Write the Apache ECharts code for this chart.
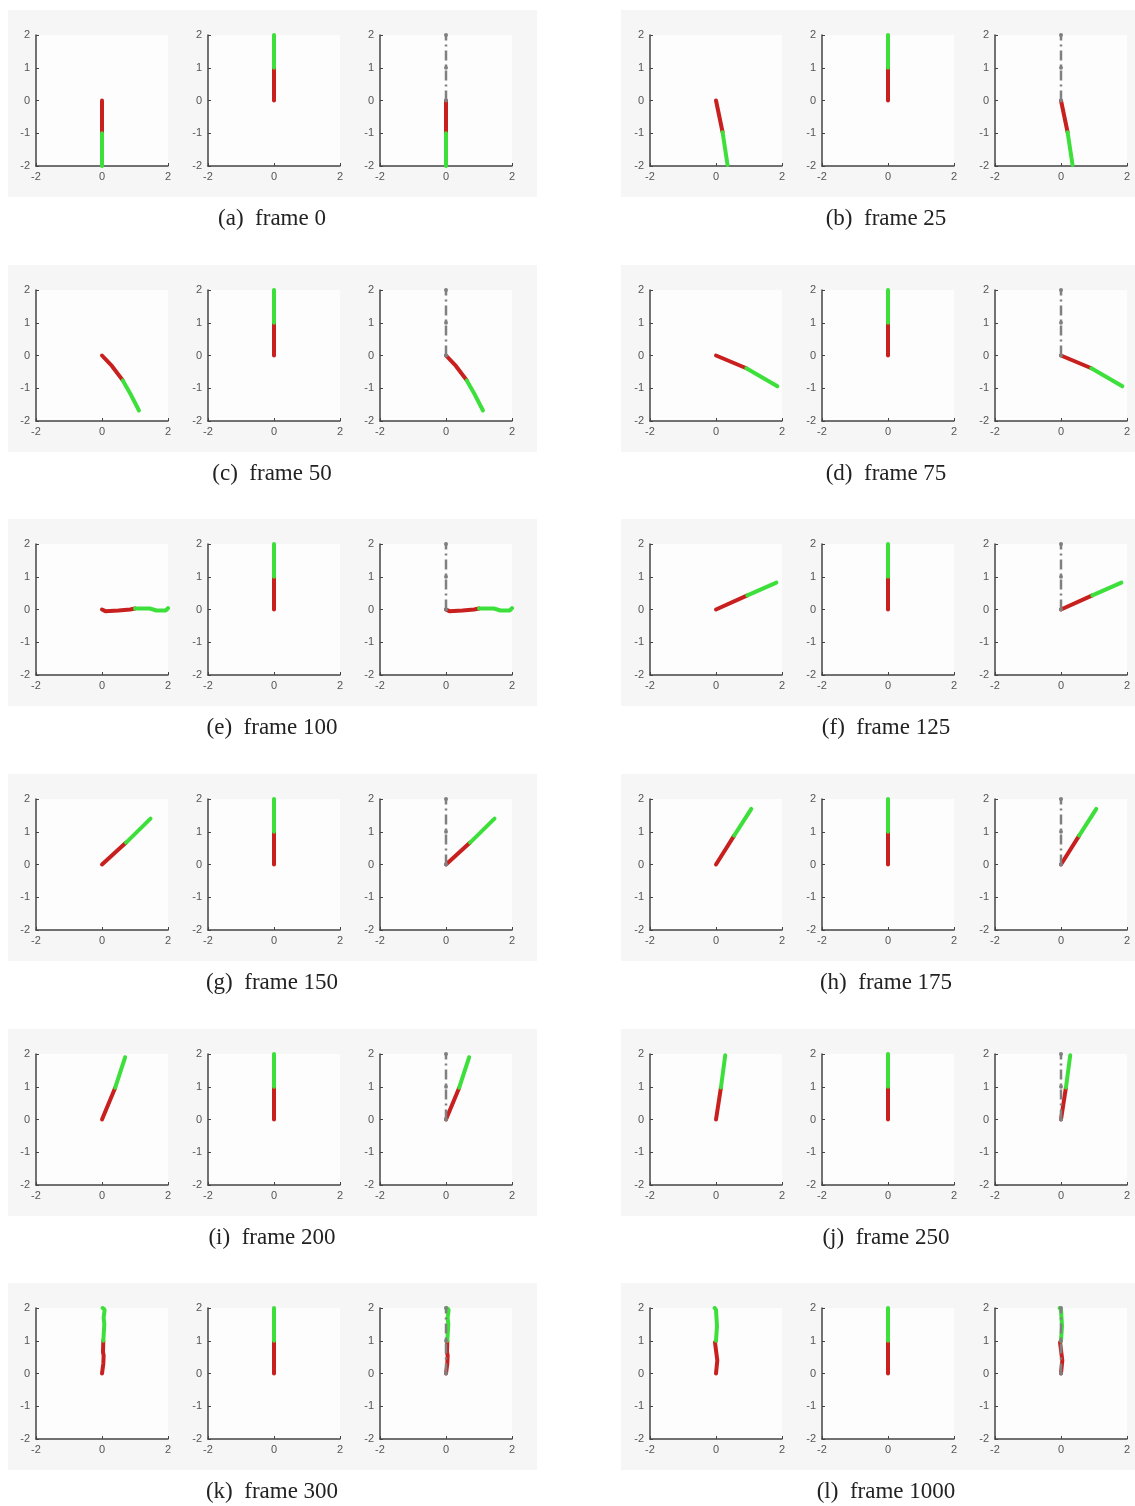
<!DOCTYPE html>
<html>
<head>
<meta charset="utf-8">
<script src="https://cdn.jsdelivr.net/npm/echarts@6/dist/echarts.min.js"></script>
<style>
  html, body { margin: 0; padding: 0; background: #fff; }
  #main { width: 1135px; height: 1506px; }
</style>
</head>
<body>
<div id="main"></div>
<script>
// captions of the 12 panels
var letters = ["a", "b", "c", "d", "e", "f", "g", "h", "i", "j", "k", "l"];
var frames = [0, 25, 50, 75, 100, 125, 150, 175, 200, 250, 300, 1000];

// first link (red), points [x, y] per frame
var redLinks = [
  [[0, 0], [0, -1]],
  [[0, 0], [0.2, -0.97]],
  [[0, 0], [0.3, -0.32], [0.63, -0.76]],
  [[0, 0], [0.92, -0.39]],
  [[0, 0], [0.1, -0.05], [0.5, -0.03], [0.85, 0], [1.0, 0.03]],
  [[0, 0], [0.95, 0.43]],
  [[0, 0], [0.73, 0.67]],
  [[0, 0], [0.55, 0.88]],
  [[0, 0], [0.4, 0.97]],
  [[0, 0], [0.15, 0.98]],
  [[0, 0], [0.04, 0.3], [0.05, 0.55], [0.03, 0.65], [0.04, 1.0]],
  [[0, 0], [0.04, 0.05], [0.04, 0.4], [-0.02, 0.45], [-0.03, 0.95], [0, 1.0]]
];

// second link (green)
var greenLinks = [
  [[0, -1], [0, -2]],
  [[0.2, -0.97], [0.35, -1.97]],
  [[0.63, -0.76], [0.85, -1.15], [1.12, -1.68]],
  [[0.92, -0.39], [1.86, -0.94]],
  [[1.0, 0.03], [1.45, 0.03], [1.65, -0.03], [1.93, -0.03], [2.0, 0.04]],
  [[0.95, 0.43], [1.83, 0.82]],
  [[0.73, 0.67], [1.47, 1.4]],
  [[0.55, 0.88], [1.07, 1.7]],
  [[0.4, 0.97], [0.7, 1.9]],
  [[0.15, 0.98], [0.28, 1.96]],
  [[0.04, 1.0], [0.07, 1.5], [0.05, 1.7], [0.08, 1.95], [0.02, 2.0]],
  [[0, 1.0], [0.03, 1.45], [-0.03, 1.5], [0, 1.95], [-0.04, 2.0]]
];

// upright target pose
var targetRed = [[0, 0], [0, 1]];
var targetGreen = [[0, 1], [0, 2]];
var targetPole = [[0, 0], [0, 1], [0, 2]];

var xRange = [-2, 2];
var yRange = [-2, 2];

var RED = "#c8201e", GREEN = "#3de03a", GREY = "#808080";

var colX = [[36, 208, 380], [650, 822, 995]];
var rowY = [35, 290, 544, 799, 1054, 1308];
var plotW = 132, plotH = 131;

var grids = [], xAxes = [], yAxes = [], series = [], graphics = [];

function copy(pts) {
  return pts.map(function (d) { return [d[0], d[1]]; });
}

function link(idx, pts, color) {
  return {
    type: "line", xAxisIndex: idx, yAxisIndex: idx, data: copy(pts),
    symbol: "none", silent: true,
    lineStyle: { color: color, width: 4, cap: "round" }
  };
}

for (var p = 0; p < frames.length; p++) {
  var col = p % 2, row = Math.floor(p / 2);
  var rowTop = rowY[row];
  // panel background
  graphics.push({
    type: "rect", z: -10,
    shape: col === 0 ? { x: 8, y: rowTop - 25, width: 529, height: 187 }
                     : { x: 621, y: rowTop - 25, width: 514, height: 187 },
    style: { fill: "#f6f6f6" }
  });
  graphics.push({
    type: "text",
    x: col === 0 ? 272 : 886, y: rowTop + 184,
    style: {
      text: "(" + letters[p] + ")  frame " + frames[p],
      fill: "#222", font: "23px 'Liberation Serif', serif",
      align: "center", verticalAlign: "middle"
    }
  });
  for (var s = 0; s < 3; s++) {
    var idx = p * 3 + s;
    grids.push({
      left: colX[col][s], top: rowTop, width: plotW, height: plotH,
      show: true, backgroundColor: "#fdfdfd", borderWidth: 0
    });
    xAxes.push({
      gridIndex: idx, type: "value", min: xRange[0], max: xRange[1], interval: 2,
      axisLine: { onZero: false, lineStyle: { color: "#444", width: 1.5 } },
      axisTick: { inside: true, length: 3, lineStyle: { color: "#444" } },
      axisLabel: { color: "#555", fontSize: 11, margin: 5 },
      splitLine: { show: false }
    });
    yAxes.push({
      gridIndex: idx, type: "value", min: yRange[0], max: yRange[1], interval: 1,
      axisLine: { onZero: false, lineStyle: { color: "#444", width: 1.5 } },
      axisTick: { inside: true, length: 3, lineStyle: { color: "#444" } },
      axisLabel: { color: "#555", fontSize: 11, margin: 6 },
      splitLine: { show: false }
    });
    if (s === 1) {
      series.push(link(idx, targetRed, RED));
      series.push(link(idx, targetGreen, GREEN));
    } else {
      series.push(link(idx, redLinks[p], RED));
      series.push(link(idx, greenLinks[p], GREEN));
    }
    if (s === 2) {
      // dash-dot target drawn over the current pose
      series.push({
        type: "line", xAxisIndex: idx, yAxisIndex: idx, data: copy(targetPole),
        symbol: "circle", symbolSize: 4, silent: true,
        itemStyle: { color: GREY },
        lineStyle: { color: GREY, width: 2.5, type: [10, 4, 2, 4] }
      });
    }
  }
}

var myChart = echarts.init(document.getElementById("main"));
myChart.setOption({
  animation: false,
  grid: grids,
  xAxis: xAxes,
  yAxis: yAxes,
  series: series,
  graphic: { elements: graphics }
});
</script>
</body>
</html>
